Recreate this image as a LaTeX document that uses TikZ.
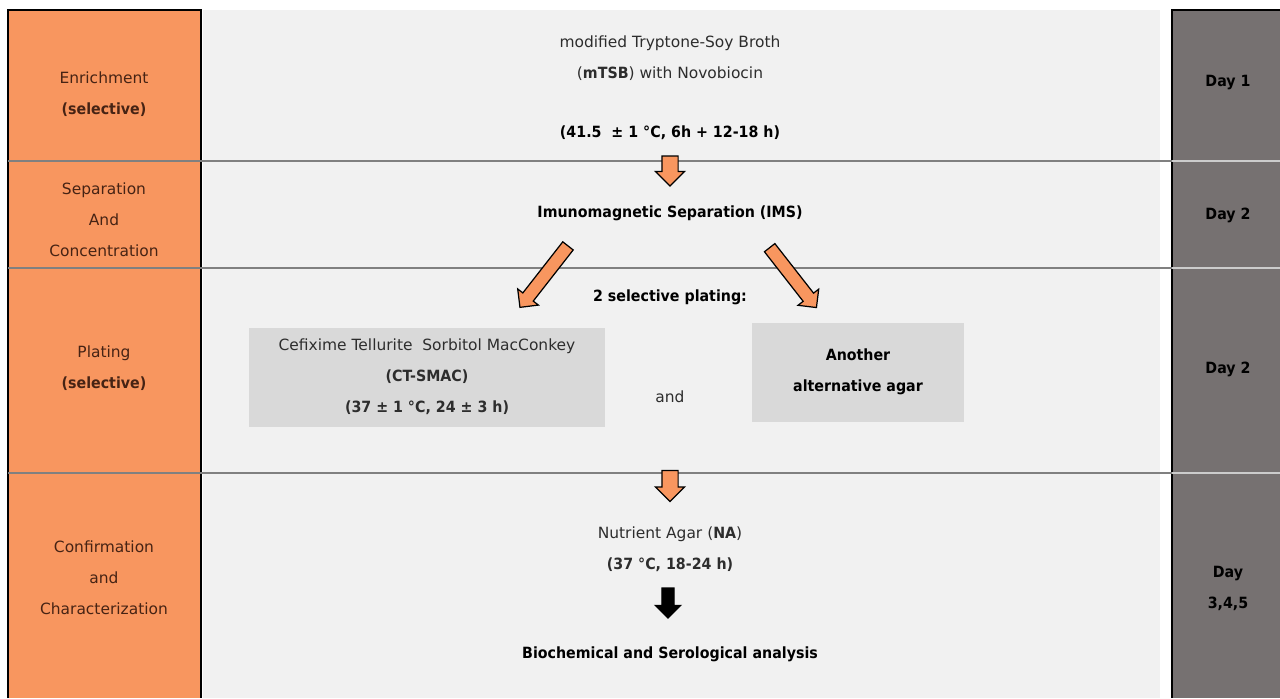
\documentclass[tikz,border=0pt]{standalone}
\usepackage{fontspec}
\setmainfont{DejaVu Sans}[BoldFeatures={FakeStretch=0.92}]
\usetikzlibrary{shapes.arrows}
\definecolor{stageorange}{RGB}{248,150,95}
\definecolor{panelgray}{RGB}{241,241,241}
\definecolor{daygray}{RGB}{118,113,113}
\definecolor{boxgray}{RGB}{217,217,217}
\definecolor{stagetext}{RGB}{70,35,20}
\definecolor{plaintext}{RGB}{45,45,45}
\begin{document}
\begin{tikzpicture}[x=0.02cm, y=-0.02cm,
  every node/.style={font=\fontsize{8.8}{17.6}\selectfont, align=center, text=plaintext},
  stage/.style={text=stagetext},
  day/.style={font=\fontsize{8.8}{17.6}\selectfont\bfseries, text=black},
  medium/.style={fill=boxgray, minimum height=1.98cm},
  fatarrow/.style={single arrow, draw=black, fill=stageorange, line width=0.7pt,
    inner xsep=0pt, inner ysep=0.12cm, single arrow head extend=0.13cm}]
  \useasboundingbox (0,0) rectangle (1280,698);
  \fill[white] (0,0) rectangle (1280,698);
  \fill[stageorange] (8,10) rectangle (201,698);
  \fill[panelgray] (203,10) rectangle (1160,698);
  \fill[daygray] (1172,10) rectangle (1280,698);
  \draw[line width=1.2pt] (8,698) -- (8,10) -- (201,10) -- (201,698);
  \draw[line width=1.2pt] (1172,698) -- (1172,10) -- (1280,10);
  \foreach \y in {161,268,473} {
    \draw[gray, line width=0.6pt] (8,\y) -- (1172,\y);
    \draw[gray!40, line width=0.6pt] (1172,\y) -- (1280,\y);
  }

  \node[stage] (enrich) at (104,94) {Enrichment\\\textbf{(selective)}};
  \node[stage] (separ) at (104,220) {Separation\\And\\Concentration};
  \node[stage] (plating) at (104,368) {Plating\\\textbf{(selective)}};
  \node[stage] (confirm) at (104,578) {Confirmation\\and\\Characterization};

  \node[day] (day1) at (1228,83) {Day 1};
  \node[day] (day2a) at (1228,215) {Day 2};
  \node[day] (day2b) at (1228,369) {Day 2};
  \node[day] (day345) at (1228,588) {Day\\3,4,5};

  \node (mtsb) at (670,58) {modified Tryptone-Soy Broth\\(\textbf{mTSB}) with Novobiocin};
  \node[text=black] (cond1) at (670,133) {\textbf{(41.5 \ ± 1 °C, 6h + 12-18 h)}};
  \node[text=black] (ims) at (670,213) {\textbf{Imunomagnetic Separation (IMS)}};
  \node[text=black] (twoplate) at (670,297) {\textbf{2 selective plating:}};
  \node[medium, minimum width=7.12cm] (ctsmac) at (427,377) {Cefixime Tellurite \ Sorbitol MacConkey\\\textbf{(CT-SMAC)}\\\textbf{(37 ± 1 °C, 24 ± 3 h)}};
  \node (and) at (670,397) {and};
  \node[medium, minimum width=4.24cm, text=black] (other) at (858,372) {\textbf{Another}\\\textbf{alternative agar}};
  \node (na) at (670,549) {Nutrient Agar (\textbf{NA})\\\textbf{(37 °C, 18-24 h)}};
  \node[text=black] (bio) at (670,654) {\textbf{Biochemical and Serological analysis}};

  \node[fatarrow, rotate=-90, minimum height=0.6cm, inner ysep=0.15cm] (down1) at (670,167) {};
  \node[fatarrow, rotate=-128, minimum height=1.56cm] (toleft) at (546,274) {};
  \node[fatarrow, rotate=-52, minimum height=1.52cm] (toright) at (791,275) {};
  \node[fatarrow, rotate=-90, minimum height=0.62cm, inner ysep=0.15cm] (down2) at (670,482) {};
  \node[fatarrow, fill=black, rotate=-90, minimum height=0.6cm, inner ysep=0.11cm] (down3) at (668,600) {};
\end{tikzpicture}
\end{document}
